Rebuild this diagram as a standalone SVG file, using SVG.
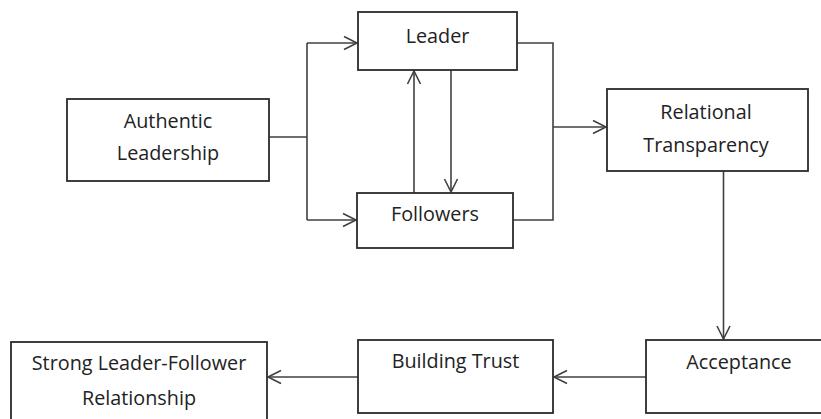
<svg xmlns="http://www.w3.org/2000/svg" width="821" height="419" viewBox="0 0 821 419">
  <style>
    .box { fill: #ffffff; stroke: #2b2b2b; stroke-width: 1.8; }
    .lbl { font-family: "Open Sans", "Liberation Sans", sans-serif; font-size: 19.8px; fill: #222222; text-anchor: middle; }
    .wire { fill: none; stroke: #404040; stroke-width: 1.6; }
    .arrow { marker-end: url(#open); }
  </style>
  <defs>
    <marker id="open" markerUnits="userSpaceOnUse" viewBox="-15 -8 17 16" refX="0" refY="0" markerWidth="17" markerHeight="16" orient="auto">
      <path d="M-13,-6.5 L0,0 L-13,6.5" fill="none" stroke="#404040" stroke-width="1.6"/>
    </marker>
  </defs>
  <rect width="821" height="419" fill="#ffffff"/>

  <g id="connectors">
    <!-- Authentic Leadership splits to Leader and Followers -->
    <path class="wire" d="M269,137 H307 M307,43 V220"/>
    <path class="wire arrow" d="M307,43 H357"/>
    <path class="wire arrow" d="M307,220 H356"/>
    <!-- Leader and Followers exchange -->
    <path class="wire arrow" d="M414,193 V71"/>
    <path class="wire arrow" d="M451,70 V192"/>
    <!-- Leader and Followers merge into Relational Transparency -->
    <path class="wire" d="M517,43 H553 V220 H513"/>
    <path class="wire arrow" d="M553,127 H606"/>
    <!-- Downstream chain -->
    <path class="wire arrow" d="M723.5,171 V339"/>
    <path class="wire arrow" d="M646,377 H554"/>
    <path class="wire arrow" d="M358,377 H268"/>
  </g>

  <g id="authentic-leadership">
    <rect class="box" x="67" y="99" width="202" height="82"/>
    <text class="lbl" x="168" y="128">Authentic</text>
    <text class="lbl" x="168" y="160">Leadership</text>
  </g>

  <g id="leader">
    <rect class="box" x="358" y="12" width="159" height="58"/>
    <text class="lbl" x="437.5" y="43">Leader</text>
  </g>

  <g id="followers">
    <rect class="box" x="357" y="193" width="156" height="55"/>
    <text class="lbl" x="435" y="220.5">Followers</text>
  </g>

  <g id="relational-transparency">
    <rect class="box" x="607" y="89" width="201" height="82"/>
    <text class="lbl" x="706" y="119">Relational</text>
    <text class="lbl" x="706" y="151.5">Transparency</text>
  </g>

  <g id="acceptance">
    <rect class="box" x="646" y="340" width="186" height="73"/>
    <text class="lbl" x="739" y="369">Acceptance</text>
  </g>

  <g id="building-trust">
    <rect class="box" x="358" y="340" width="195" height="73"/>
    <text class="lbl" x="455.5" y="368">Building Trust</text>
  </g>

  <g id="strong-relationship">
    <rect class="box" x="11" y="342" width="256" height="90"/>
    <text class="lbl" x="139" y="370">Strong Leader-Follower</text>
    <text class="lbl" x="139" y="405">Relationship</text>
  </g>
</svg>
